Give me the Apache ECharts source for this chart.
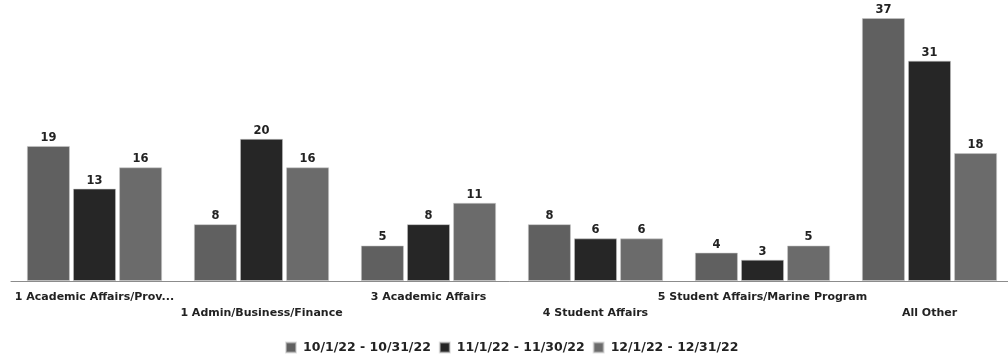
<!DOCTYPE html>
<html>
<head>
<meta charset="utf-8">
<script src="https://cdn.jsdelivr.net/npm/echarts@6/dist/echarts.min.js"></script>
<style>
  html, body { margin: 0; padding: 0; background: #fff; }
  #chart { width: 1008px; height: 357px; }
</style>
</head>
<body>
<div id="chart"></div>
<script>
// Department categories along the x axis
const categories = [
  '1 Academic Affairs/Prov...',
  '1 Admin/Business/Finance',
  '3 Academic Affairs',
  '4 Student Affairs',
  '5 Student Affairs/Marine Program',
  'All Other'
];

// Monthly period names
const periods = ['10/1/22 - 10/31/22', '11/1/22 - 11/30/22', '12/1/22 - 12/31/22'];

// Counts per period
const octValues = [19, 8, 5, 8, 4, 37];
const novValues = [13, 20, 8, 6, 3, 31];
const decValues = [16, 16, 11, 6, 5, 18];

const seriesColors = ['#606060', '#262626', '#6b6b6b'];
const FONT = 'DejaVu Sans';

const chart = echarts.init(document.getElementById('chart'));

function barSeries(name, values, color) {
  return {
    name: name,
    type: 'bar',
    data: values,
    barGap: '7%',
    barCategoryGap: '19%',
    itemStyle: { color: color, borderColor: 'rgba(200,200,200,0.55)', borderWidth: 1 },
    label: {
      show: true,
      position: 'top',
      distance: 2,
      color: '#222',
      fontFamily: FONT,
      fontWeight: 'bold',
      fontSize: 11.5
    }
  };
}

chart.setOption({
  animation: false,
  // the plot runs a little past the right edge of the canvas
  grid: { left: 11, width: 1002, top: 18, height: 263, outerBoundsMode: 'none', containLabel: false },
  legend: {
    bottom: 3,
    left: 285,
    padding: 0,
    itemWidth: 10,
    itemHeight: 10,
    itemGap: 8,
    icon: 'rect',
    textStyle: { fontFamily: FONT, fontWeight: 'bold', fontSize: 12.5, color: '#222', padding: [0, 0, 0, 2] },
    data: periods
  },
  xAxis: {
    type: 'category',
    data: categories,
    axisLine: { lineStyle: { color: '#8c8c8c' } },
    axisTick: { alignWithLabel: true, length: 3, lineStyle: { color: '#8c8c8c' } },
    axisLabel: {
      interval: 0,
      margin: 8,
      color: '#222',
      fontFamily: FONT,
      fontWeight: 'bold',
      fontSize: 11,
      lineHeight: 16,
      formatter: function (v, i) { return i % 2 ? '\n' + v : v; }
    }
  },
  yAxis: {
    type: 'value',
    min: 0,
    max: 37,
    show: false,
    splitLine: { show: false }
  },
  series: [
    barSeries(periods[0], octValues, seriesColors[0]),
    barSeries(periods[1], novValues, seriesColors[1]),
    barSeries(periods[2], decValues, seriesColors[2])
  ]
});
</script>
</body>
</html>
